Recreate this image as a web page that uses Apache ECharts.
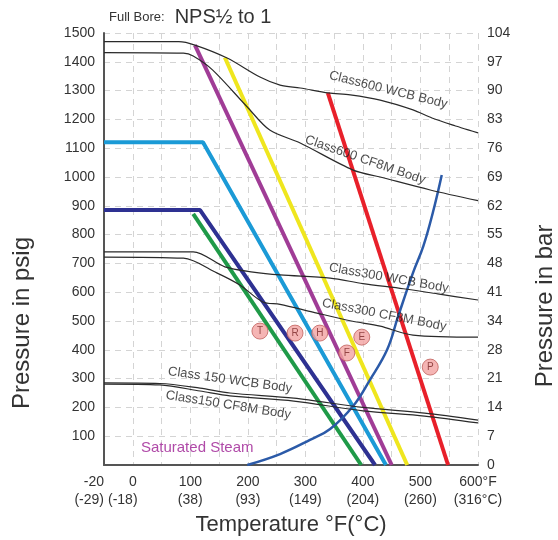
<!DOCTYPE html>
<html>
<head>
<meta charset="utf-8">
<script src="https://cdn.jsdelivr.net/npm/echarts@6/dist/echarts.min.js"></script>
<style>
  html, body { margin: 0; padding: 0; background: #fff; }
  #chart { width: 558px; height: 540px; }
</style>
</head>
<body>
<div id="chart"></div>
<script>
// x axis: °F, left edge drawn as "-20" (the original squeezes it in at one grid step left of 0)
const xTickAt = [-50, 0, 100, 200, 300, 400, 500, 600]
const xTickF = ['-20', '0', '100', '200', '300', '400', '500', '600°F']
const xTickC = ['(-29)', '(-18)', '(38)', '(93)', '(149)', '(204)', '(260)', '(316°C)']
const barTicks = ['0', '7', '14', '21', '28', '34', '41', '48', '55', '62', '69', '76', '83', '90', '97', '104']

// body rating curves [°F, psig]
const class600WCB = [[-50, 1470], [80, 1470], [108, 1458], [164, 1413], [221, 1347], [256, 1319], [291, 1309], [340, 1292], [378, 1285], [430, 1267], [487, 1233], [520, 1205], [560, 1178], [600, 1153]]
const class600CF8M = [[-50, 1432], [88, 1430], [105, 1420], [139, 1371], [199, 1243], [238, 1163], [291, 1118], [383, 1024], [430, 1000], [517, 955], [600, 918]]
const class300WCB = [[-50, 740], [105, 740], [160, 688], [209, 670], [256, 660], [343, 649], [400, 630], [470, 612], [530, 594], [600, 573]]
const class300CF8M = [[-50, 722], [88, 718], [146, 667], [186, 625], [226, 566], [256, 558], [313, 531], [380, 500], [430, 482], [487, 451], [600, 444]]
const class150WCB = [[-50, 285], [47, 283], [117, 267], [169, 250], [280, 232], [400, 200], [507, 180], [600, 156]]
const class150CF8M = [[-50, 281], [47, 278], [117, 257], [169, 240], [280, 222], [400, 188], [507, 170], [600, 146]]

// seat material limits [°F, psig]
const seatGreen = [[105, 872], [397, 0]]
const seatNavy = [[-50, 885], [117, 885], [421, 0]]
const seatBlue = [[-50, 1121], [122, 1121], [440, 0]]
const seatMagenta = [[108, 1458], [450, 0]]
const seatYellow = [[160, 1415], [477, 0]]
const seatRed = [[339, 1292], [548, 0]]

const steam = [[199, 0], [256, 38], [308, 87], [343, 125], [383, 205], [412, 295], [442, 400], [461, 515], [487, 667], [505, 760], [522, 880], [537, 1007]]

const seatMarks = [['T', 221, 465], ['R', 282, 458], ['H', 325, 458], ['E', 398, 444], ['F', 372, 389], ['P', 517, 340]]

const curveLabels = [
  ['Class600 WCB Body', 444, 1302, -14],
  ['Class600 CF8M Body', 404, 1059, -19],
  ['Class300 WCB Body', 445, 649, -10],
  ['Class300 CF8M Body', 437, 521, -11],
  ['Class 150 WCB Body', 169, 295, -8],
  ['Class150 CF8M Body', 166, 208, -9]
]

const font = '"Liberation Sans", Arial, sans-serif'

const bodyLine = (name, data) => ({
  name, type: 'line', data, smooth: 0.3, showSymbol: false, z: 3,
  lineStyle: { color: '#2a2a2a', width: 1.2 }
})
const seatLine = (name, data, color) => ({
  name, type: 'line', data, showSymbol: false, z: 2,
  lineStyle: { color, width: 4 }
})

// "(-18)" sits a little left of its grid line in the original
const xLabel = v => {
  const i = xTickAt.indexOf(v)
  if (i < 0) return ''
  if (i === 1) return '{f|' + xTickF[i] + '}\n{c1|' + xTickC[i] + '}'
  return '{f|' + xTickF[i] + '}\n{f|' + xTickC[i] + '}'
}

const chart = echarts.init(document.getElementById('chart'))
chart.setOption({
  animation: false,
  textStyle: { fontFamily: font },
  title: {
    left: 104, top: 2,
    text: '{a|Full Bore:}  {b|NPS½ to 1}',
    textStyle: {
      rich: {
        a: { fontSize: 13, color: '#333', fontFamily: font, fontWeight: 'normal' },
        b: { fontSize: 20, color: '#333', fontFamily: font, fontWeight: 'normal' }
      }
    }
  },
  grid: { left: 104, right: 80, top: 33, bottom: 75, outerBoundsMode: 'none' },
  xAxis: {
    type: 'value', min: -50, max: 600, interval: 50,
    name: 'Temperature °F(°C)', nameLocation: 'middle', nameGap: 44,
    nameTextStyle: { fontSize: 22, color: '#333' },
    axisLine: { show: true, onZero: false, lineStyle: { color: '#555', width: 2 } },
    axisTick: { show: false },
    axisLabel: {
      margin: 8, fontSize: 14, color: '#333', lineHeight: 18,
      showMinLabel: true, showMaxLabel: true, hideOverlap: false,
      alignMinLabel: 'right',
      formatter: xLabel,
      rich: {
        f: { fontSize: 14, color: '#333', lineHeight: 18 },
        c1: { fontSize: 14, color: '#333', lineHeight: 18, padding: [0, 20, 0, 0] }
      }
    },
    splitLine: { show: true, lineStyle: { color: '#d4d4d4', type: [6, 5] } }
  },
  yAxis: [{
    type: 'value', min: 0, max: 1500, interval: 100,
    name: 'Pressure in psig', nameLocation: 'middle', nameRotate: 90, nameGap: 70,
    nameTextStyle: { fontSize: 24, color: '#333', padding: [0, 148, 0, 0] },
    axisLine: { show: true, onZero: false, lineStyle: { color: '#555', width: 2 } },
    axisTick: { show: false },
    axisLabel: { margin: 9, fontSize: 14, color: '#333', formatter: v => v === 0 ? '' : String(v) },
    splitLine: { show: true, lineStyle: { color: '#d4d4d4', type: [6, 5] } }
  }, {
    type: 'value', min: 0, max: 1500, interval: 100, position: 'right',
    name: 'Pressure in bar', nameLocation: 'middle', nameRotate: 90, nameGap: 55,
    nameTextStyle: { fontSize: 24, color: '#333', padding: [0, 114, 0, 0] },
    axisLine: { show: false, onZero: false },
    axisTick: { show: false },
    axisLabel: { margin: 9, fontSize: 14, color: '#333', formatter: v => barTicks[Math.round(v / 100)] },
    splitLine: { show: false }
  }],
  series: [
    bodyLine('Class600 WCB', class600WCB),
    bodyLine('Class600 CF8M', class600CF8M),
    bodyLine('Class300 WCB', class300WCB),
    bodyLine('Class300 CF8M', class300CF8M),
    bodyLine('Class150 WCB', class150WCB),
    bodyLine('Class150 CF8M', class150CF8M),
    seatLine('green', seatGreen, '#1f9a48'),
    seatLine('navy', seatNavy, '#2e3192'),
    seatLine('blue', seatBlue, '#1b9ad6'),
    seatLine('magenta', seatMagenta, '#a03c96'),
    seatLine('yellow', seatYellow, '#efe61e'),
    seatLine('red', seatRed, '#e8202a'),
    {
      name: 'Saturated Steam', type: 'line', data: steam, smooth: 0.4, showSymbol: false, z: 2,
      lineStyle: { color: '#2b5aa8', width: 2.5 },
      markPoint: {
        symbol: 'circle', symbolSize: 0,
        data: [{ coord: [112, 59], value: 'Saturated Steam' }],
        label: { show: true, position: 'inside', formatter: 'Saturated Steam', fontSize: 15, color: '#b04aa8' }
      }
    },
    {
      name: 'seats', type: 'scatter', z: 5, symbolSize: 16,
      data: seatMarks.map(m => ({ name: m[0], value: [m[1], m[2]] })),
      itemStyle: { color: '#f2a3a1', borderColor: '#c0605c', borderWidth: 1 },
      label: { show: true, position: 'inside', formatter: '{b}', fontSize: 10, color: '#7a2828' }
    },
    {
      name: 'curve labels', type: 'scatter', z: 6, symbolSize: 0, silent: true,
      data: curveLabels.map(c => ({ name: c[0], value: [c[1], c[2]], label: { rotate: c[3] } })),
      label: { show: true, position: 'inside', formatter: '{b}', fontSize: 13, color: '#222' }
    }
  ]
})
</script>
</body>
</html>
